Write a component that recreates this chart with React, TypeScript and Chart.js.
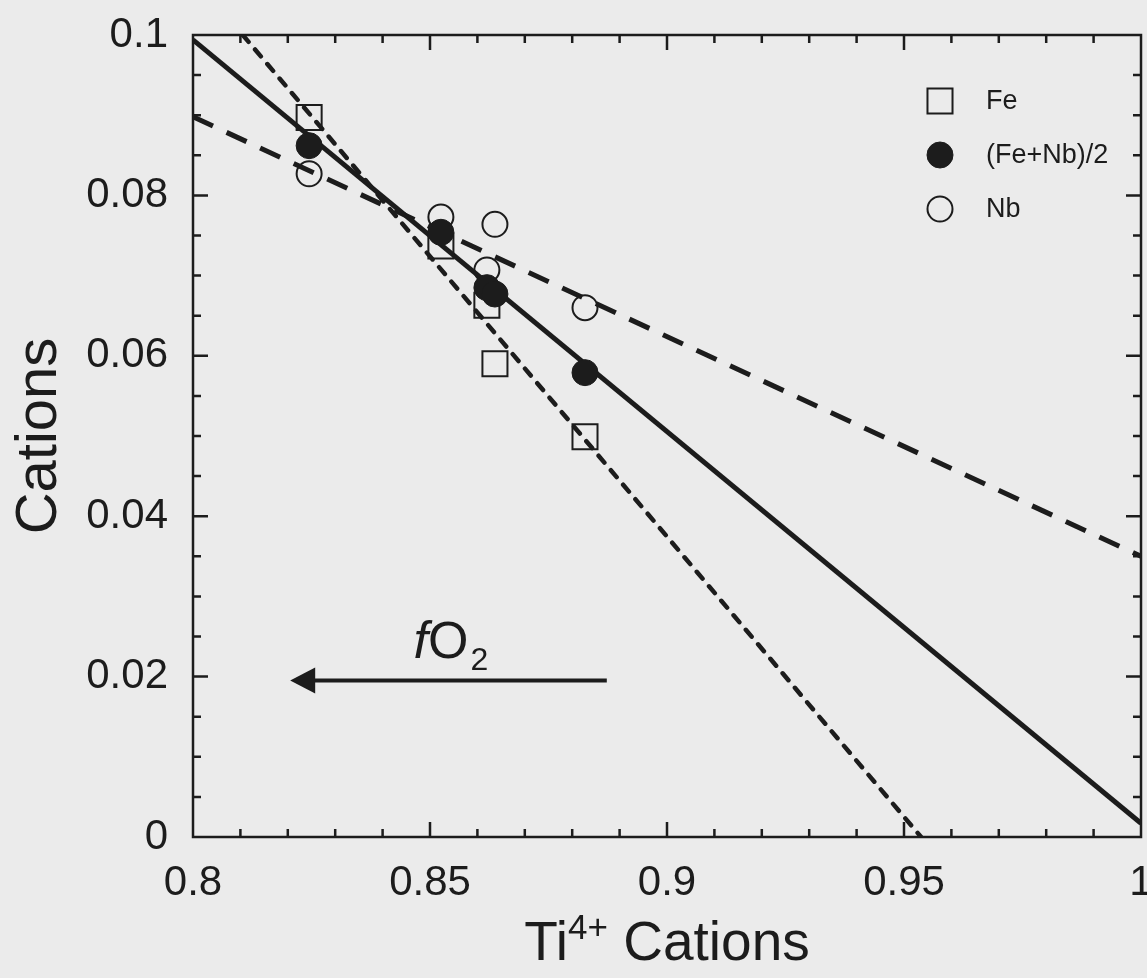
import React, { useEffect, useRef } from 'react';
import { Chart, registerables } from 'chart.js';
import { drawPoint } from 'chart.js/helpers';

Chart.register(...registerables);

// Measured compositions (Ti4+ cations vs. Fe, Nb and their mean)
const tiValues = [0.8245, 0.8523, 0.862, 0.8637, 0.8827];
const feValues = [0.0897, 0.0737, 0.0663, 0.059, 0.0499];
const meanValues = [0.0862, 0.0754, 0.0685, 0.0677, 0.0579];
const nbValues = [0.0827, 0.0773, 0.0707, 0.0764, 0.066];

// Regression lines (end points)
const feFitX = [0.8105, 0.9536];
const feFitY = [0.1, 0.0];
const meanFitX = [0.8, 1.0];
const meanFitY = [0.0994, 0.0017];
const nbFitX = [0.8, 1.0];
const nbFitY = [0.0898, 0.035];

// fO2 direction arrow (tail -> head) and its label position
const arrowX = [0.8873, 0.8205];
const arrowY = [0.0195, 0.0195];
const arrowLabelX = 0.8544;
const arrowLabelY = 0.0223;

// Axes
const xTicks = [0.8, 0.85, 0.9, 0.95, 1.0];
const xTickLabels = ['0.8', '0.85', '0.9', '0.95', '1'];
const yTicks = [0, 0.02, 0.04, 0.06, 0.08, 0.1];
const yTickLabels = ['0', '0.02', '0.04', '0.06', '0.08', '0.1'];
const xMinorStep = 0.01;
const yMinorStep = 0.005;

const legendLabels = ['Fe', '(Fe+Nb)/2', 'Nb'];

const FONT = '"Liberation Sans", Arial, Helvetica, sans-serif';
const INK = '#1c1c1c';
const PAPER = '#ebebeb';
const W = 1147;
const H = 978;

const pts = (xs: number[], ys: number[]) => xs.map((x, i) => ({ x, y: ys[i] }));

const squareStyle = { pointStyle: 'rect', radius: 17.7, borderWidth: 2, fill: 'rgba(0,0,0,0)' };
const filledStyle = { pointStyle: 'circle', radius: 13, borderWidth: 1, fill: INK };
const openStyle = { pointStyle: 'circle', radius: 12.5, borderWidth: 2, fill: 'rgba(0,0,0,0)' };

const decorPlugin = {
  id: 'decor',
  beforeDraw(chart: any) {
    const { ctx } = chart;
    ctx.save();
    ctx.fillStyle = PAPER;
    ctx.fillRect(0, 0, chart.width, chart.height);
    ctx.restore();
  },
  afterDatasetsDraw(chart: any) {
    const { ctx, chartArea: a, scales } = chart;
    const xs = scales.x;
    const ys = scales.y;
    ctx.save();
    ctx.strokeStyle = INK;
    ctx.lineWidth = 2.5;
    ctx.strokeRect(a.left, a.top, a.right - a.left, a.bottom - a.top);

    const minor = 8;
    const major = 15;
    ctx.lineWidth = 2.5;
    ctx.beginPath();
    const nx = Math.round((xs.max - xs.min) / xMinorStep);
    for (let i = 1; i < nx; i++) {
      const v = xs.min + i * xMinorStep;
      const px = xs.getPixelForValue(v);
      const len = i % 5 === 0 ? major : minor;
      ctx.moveTo(px, a.bottom);
      ctx.lineTo(px, a.bottom - len);
      ctx.moveTo(px, a.top);
      ctx.lineTo(px, a.top + len);
    }
    const ny = Math.round((ys.max - ys.min) / yMinorStep);
    for (let i = 1; i < ny; i++) {
      const v = ys.min + i * yMinorStep;
      const py = ys.getPixelForValue(v);
      const len = i % 4 === 0 ? major : minor;
      ctx.moveTo(a.left, py);
      ctx.lineTo(a.left + len, py);
      ctx.moveTo(a.right, py);
      ctx.lineTo(a.right - len, py);
    }
    ctx.stroke();
    ctx.restore();
  },
  afterDraw(chart: any) {
    const { ctx, chartArea: a, scales } = chart;
    const xs = scales.x;
    const ys = scales.y;
    ctx.save();
    ctx.fillStyle = INK;
    ctx.strokeStyle = INK;

    // fO2 arrow
    const tailX = xs.getPixelForValue(arrowX[0]);
    const headX = xs.getPixelForValue(arrowX[1]);
    const ay = ys.getPixelForValue(arrowY[0]);
    const headLen = 25;
    const headHalf = 13;
    ctx.lineWidth = 4;
    ctx.beginPath();
    ctx.moveTo(tailX, ay);
    ctx.lineTo(headX + headLen - 2, ay);
    ctx.stroke();
    ctx.beginPath();
    ctx.moveTo(headX, ay);
    ctx.lineTo(headX + headLen, ay - headHalf);
    ctx.lineTo(headX + headLen, ay + headHalf);
    ctx.closePath();
    ctx.fill();

    // fO2 label
    const lx = xs.getPixelForValue(arrowLabelX);
    const ly = ys.getPixelForValue(arrowLabelY);
    ctx.textBaseline = 'alphabetic';
    ctx.textAlign = 'left';
    const mainFont = `52px ${FONT}`;
    const italicFont = `italic 52px ${FONT}`;
    const subFont = `32px ${FONT}`;
    ctx.font = italicFont;
    const wf = ctx.measureText('f').width;
    ctx.font = mainFont;
    const wo = ctx.measureText('O').width;
    ctx.font = subFont;
    const w2 = ctx.measureText('2').width;
    let sx = lx - (wf + wo + w2 + 2) / 2;
    ctx.font = italicFont;
    ctx.fillText('f', sx, ly);
    sx += wf;
    ctx.font = mainFont;
    ctx.fillText('O', sx, ly);
    sx += wo + 2;
    ctx.font = subFont;
    ctx.fillText('2', sx, ly + 12);

    // Legend
    const markerStyles = [squareStyle, filledStyle, openStyle];
    const mx = a.right - 201;
    const my0 = a.top + 66;
    const step = 54;
    ctx.font = `27px ${FONT}`;
    ctx.textBaseline = 'middle';
    markerStyles.forEach((s, i) => {
      const my = my0 + i * step;
      ctx.fillStyle = s.fill;
      ctx.strokeStyle = INK;
      ctx.lineWidth = s.borderWidth;
      drawPoint(ctx, { pointStyle: s.pointStyle, rotation: 0, radius: s.radius, borderWidth: s.borderWidth }, mx, my);
      ctx.fillStyle = INK;
      ctx.fillText(legendLabels[i], mx + 46, my + 1);
    });

    // Axis titles
    ctx.fillStyle = INK;
    ctx.textBaseline = 'alphabetic';
    const titleFont = `55px ${FONT}`;
    const supFont = `35px ${FONT}`;
    ctx.font = titleFont;
    const wTi = ctx.measureText('Ti').width;
    const wRest = ctx.measureText(' Cations').width;
    ctx.font = supFont;
    const wSup = ctx.measureText('4+').width;
    const cx = (a.left + a.right) / 2;
    let tx = cx - (wTi + wSup + wRest) / 2;
    const tb = 960;
    ctx.font = titleFont;
    ctx.fillText('Ti', tx, tb);
    tx += wTi;
    ctx.font = supFont;
    ctx.fillText('4+', tx, tb - 21);
    tx += wSup;
    ctx.font = titleFont;
    ctx.fillText(' Cations', tx, tb);

    ctx.save();
    ctx.translate(56, (a.top + a.bottom) / 2);
    ctx.rotate(-Math.PI / 2);
    ctx.font = `58px ${FONT}`;
    ctx.textAlign = 'center';
    ctx.fillText('Cations', 0, 0);
    ctx.restore();

    ctx.restore();
  },
};

export default function App() {
  const canvasRef = useRef<HTMLCanvasElement | null>(null);

  useEffect(() => {
    const canvas = canvasRef.current;
    if (!canvas) return;

    const lineSet = (xs: number[], ys: number[], width: number, dash: number[], cap: string) => ({
      type: 'scatter',
      data: pts(xs, ys),
      showLine: true,
      borderColor: INK,
      borderWidth: width,
      borderDash: dash,
      borderCapStyle: cap,
      pointRadius: 0,
      fill: false,
      clip: 0,
      order: 10,
    });

    const markerSet = (label: string, ys: number[], s: any, order: number) => ({
      type: 'scatter',
      label,
      data: pts(tiValues, ys),
      pointStyle: s.pointStyle,
      pointRadius: s.radius,
      pointBorderWidth: s.borderWidth,
      pointBackgroundColor: s.fill,
      pointBorderColor: INK,
      showLine: false,
      clip: false,
      order,
    });

    const chart = new Chart(canvas, {
      type: 'scatter',
      data: {
        datasets: [
          lineSet(feFitX, feFitY, 4.5, [9, 10], 'round'),
          lineSet(meanFitX, meanFitY, 5, [], 'butt'),
          lineSet(nbFitX, nbFitY, 5, [22, 15], 'butt'),
          markerSet('Fe', feValues, squareStyle, 3),
          markerSet('Nb', nbValues, openStyle, 2),
          markerSet('(Fe+Nb)/2', meanValues, filledStyle, 1),
        ] as any,
      },
      options: {
        responsive: false,
        animation: false,
        events: [],
        layout: { autoPadding: false, padding: { top: 35, right: 6, left: 0, bottom: 0 } },
        plugins: {
          legend: { display: false },
          tooltip: { enabled: false },
          title: { display: false },
        },
        scales: {
          x: {
            type: 'linear',
            min: 0.8,
            max: 1.0,
            grid: { display: false, drawTicks: false },
            border: { display: false },
            afterBuildTicks: (scale: any) => {
              scale.ticks = xTicks.map((v) => ({ value: v }));
            },
            afterFit: (scale: any) => {
              scale.height = H - 837;
              scale.paddingLeft = 0;
              scale.paddingRight = 0;
            },
            ticks: {
              padding: 21,
              color: INK,
              font: { family: FONT, size: 42 },
              maxRotation: 0,
              autoSkip: false,
              callback: (v: any) => xTickLabels[xTicks.indexOf(Number(v))] ?? '',
            },
          },
          y: {
            type: 'linear',
            min: 0,
            max: 0.1,
            grid: { display: false, drawTicks: false },
            border: { display: false },
            afterBuildTicks: (scale: any) => {
              scale.ticks = yTicks.map((v) => ({ value: v }));
            },
            afterFit: (scale: any) => {
              scale.width = 193;
              scale.paddingTop = 0;
              scale.paddingBottom = 0;
            },
            ticks: {
              padding: 25,
              color: INK,
              font: { family: FONT, size: 42 },
              autoSkip: false,
              callback: (v: any) => yTickLabels[yTicks.indexOf(Number(v))] ?? '',
            },
          },
        },
      } as any,
      plugins: [decorPlugin],
    });

    return () => chart.destroy();
  }, []);

  return (
    <div style={{ position: 'fixed', left: 0, top: 0, width: W, height: H, background: PAPER }}>
      <canvas ref={canvasRef} width={W} height={H} style={{ display: 'block', width: W, height: H }} />
    </div>
  );
}
